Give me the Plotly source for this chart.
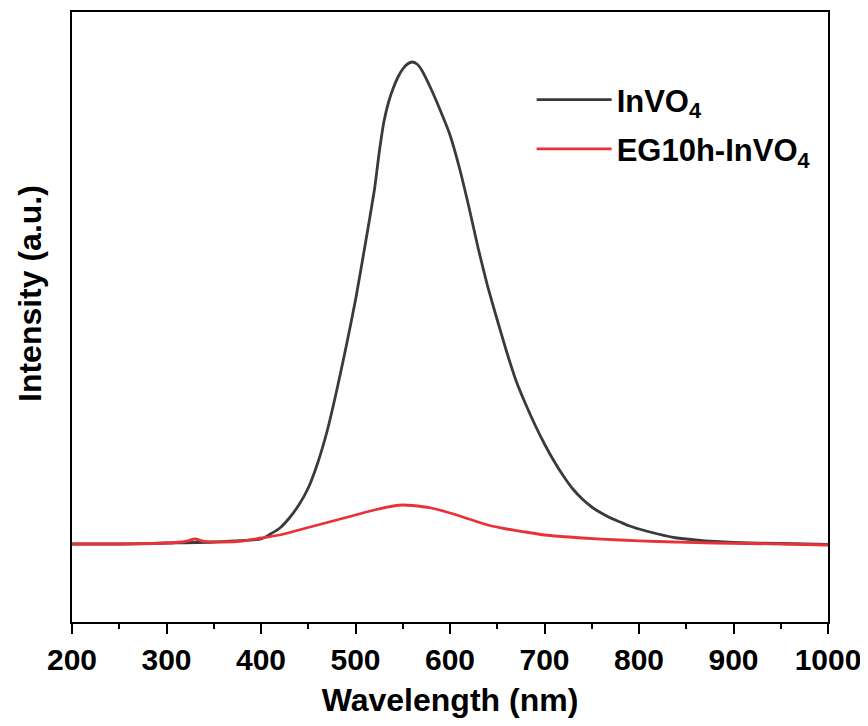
import plotly.graph_objects as go

# Wavelength (nm) and intensity (a.u.)
wl_invo4 = [200, 250, 300, 350, 400, 410, 420, 430, 440, 450, 460, 470, 480, 490,
            500, 510, 520, 525, 530, 535, 540, 545, 550, 555, 560, 565, 570, 580,
            590, 600, 610, 620, 630, 640, 650, 660, 670, 680, 690, 700, 710, 720,
            730, 740, 750, 760, 770, 780, 790, 800, 820, 840, 860, 880, 900, 950, 1000]
px_invo4 = [544, 544, 543, 542, 539, 534, 528, 518, 505, 488, 463, 431, 391, 347,
            300, 246, 190, 153, 122, 102, 88, 77, 69, 64, 62, 64, 70, 89,
            111, 135, 168, 207, 249, 287, 320, 352, 381, 404, 425, 444, 461, 476,
            489, 499, 507, 513, 518, 522, 526, 529, 534, 538, 540, 541.5, 542.5, 543.5, 544.5]

wl_eg = [200, 250, 300, 320, 330, 340, 360, 380, 400, 420, 440, 460, 480, 500,
         520, 540, 550, 560, 580, 600, 620, 640, 660, 680, 700, 740, 780, 820,
         880, 950, 1000]
px_eg = [544, 544, 543, 541.5, 539, 541.5, 542, 541, 538, 535, 530, 525, 520, 515,
         510, 506, 505, 505.5, 508, 513, 519, 525, 529, 532, 535, 538, 540, 541.5,
         543, 544, 545]

# intensity in a.u. (arbitrary scale)
int_invo4 = [622 - p for p in px_invo4]
int_eg = [622 - p for p in px_eg]

x_ticks = [200, 300, 400, 500, 600, 700, 800, 900, 1000]

FONT = "Liberation Sans, Arial, sans-serif"

fig = go.Figure()
fig.add_trace(go.Scatter(x=wl_invo4, y=int_invo4, mode="lines", name="InVO<sub>4</sub>",
                         legendgroup="a",
                         line=dict(color="#3a3a3a", width=2.8, shape="spline", smoothing=0.5)))
fig.add_trace(go.Scatter(x=wl_eg, y=int_eg, mode="lines", name="EG10h-InVO<sub>4</sub>",
                         legendgroup="b",
                         line=dict(color="#e8323a", width=2.8, shape="spline", smoothing=0.6)))

fig.update_layout(
    width=860, height=710,
    margin=dict(l=64, r=40, t=4, b=96),
    paper_bgcolor="white", plot_bgcolor="white",
    font=dict(family=FONT, size=30, color="black", weight="bold"),
    showlegend=True,
    legend=dict(x=0.608, y=0.9, xanchor="left", yanchor="top",
                bgcolor="rgba(0,0,0,0)", font=dict(size=31, family=FONT, weight="bold"),
                itemwidth=75, tracegroupgap=6),
    xaxis=dict(range=[200, 1000], tickvals=x_ticks, ticktext=[str(t) for t in x_ticks],
               ticks="outside", ticklen=10, tickwidth=2, tickcolor="black",
               minor=dict(dtick=50, ticks="outside", ticklen=5, tickwidth=2, tickcolor="black"),
               showline=True, linewidth=2, linecolor="black", mirror=True,
               showgrid=False, zeroline=False, automargin=False,
               tickfont=dict(size=30, family=FONT, weight="bold"),
               title=dict(text="Wavelength (nm)", standoff=15,
                          font=dict(size=32, family=FONT, weight="bold"))),
    yaxis=dict(range=[0, 610], showticklabels=False, ticks="",
               showline=True, linewidth=2, linecolor="black", mirror=True,
               showgrid=False, zeroline=False, automargin=False),
    annotations=[dict(text="Intensity (a.u.)", textangle=-90, xref="paper", yref="paper",
                      x=0, y=0.5377, xanchor="center", yanchor="middle", xshift=-42,
                      showarrow=False, font=dict(size=32, family=FONT, weight="bold"))],
)

fig.write_html("out.html")
